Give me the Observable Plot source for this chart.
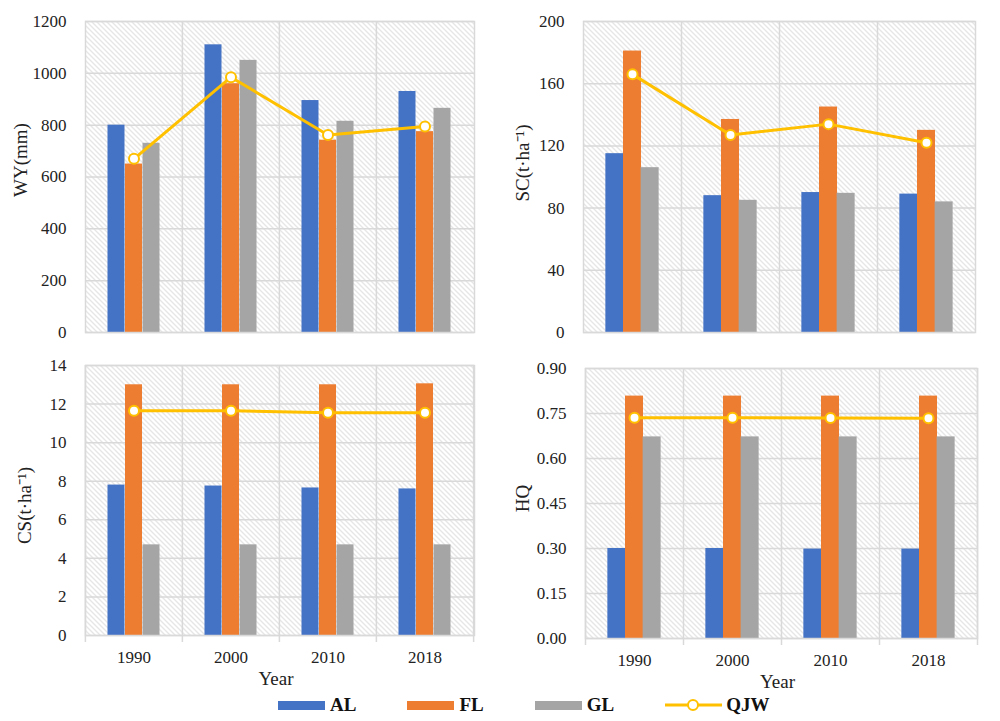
<!DOCTYPE html>
<html>
<head>
<meta charset="utf-8">
<script src="https://cdn.jsdelivr.net/npm/d3@7"></script>
<script src="https://cdn.jsdelivr.net/npm/@observablehq/plot@0.6"></script>
<style>
  html, body { margin: 0; padding: 0; background: #fff; }
  #wrap { position: relative; width: 1000px; height: 721px; font-family: "Liberation Serif", "Times New Roman", serif; }
  .panel { position: absolute; }
  #legend { position: absolute; top: 694px; left: 278px; display: flex; align-items: center; font-weight: bold; font-size: 19px; color: #111; }
  .item { display: flex; align-items: center; }
  .sw { width: 47px; height: 9px; margin-right: 5px; }
  .lbl { margin-right: 51px; }
</style>
</head>
<body>
<svg width="0" height="0" style="position:absolute">
  <defs>
    <pattern id="hatch" patternUnits="userSpaceOnUse" width="5" height="5">
      <rect width="5" height="5" fill="#ffffff"></rect>
      <path d="M-1,-1 L6,6 M-1,4 L1,6 M4,-1 L6,1" stroke="#cdcdcd" stroke-width="1"></path>
    </pattern>
  </defs>
</svg>
<div id="wrap">
  <div id="tl" class="panel" style="left:0;top:0"></div>
  <div id="tr" class="panel" style="left:500px;top:0"></div>
  <div id="bl" class="panel" style="left:0;top:345px"></div>
  <div id="br" class="panel" style="left:500px;top:345px"></div>
  <div id="legend"></div>
</div>
<script>
// ---------- data ----------
const years = ["1990", "2000", "2010", "2018"];
const series = ["AL", "FL", "GL", "QJW"];
const colors = ["#4472C4", "#ED7D31", "#A5A5A5", "#FFC000"];

const wyAL = [800, 1110, 895, 930];
const wyFL = [650, 960, 742, 775];
const wyGL = [730, 1050, 815, 865];
const wyQJW = [670, 985, 762, 795];
const wyTicks = [0, 200, 400, 600, 800, 1000, 1200];

const scAL = [115, 88, 90, 89];
const scFL = [181, 137, 145, 130];
const scGL = [106, 85, 89.5, 84];
const scQJW = [166, 127, 134, 122];
const scTicks = [0, 40, 80, 120, 160, 200];

const csAL = [7.8, 7.75, 7.65, 7.6];
const csFL = [13.0, 13.0, 13.0, 13.05];
const csGL = [4.7, 4.7, 4.7, 4.7];
const csQJW = [11.65, 11.65, 11.55, 11.55];
const csTicks = [0, 2, 4, 6, 8, 10, 12, 14];

const hqAL = [0.30, 0.30, 0.298, 0.298];
const hqFL = [0.808, 0.808, 0.808, 0.808];
const hqGL = [0.672, 0.672, 0.672, 0.672];
const hqQJW = [0.736, 0.736, 0.735, 0.734];
const hqTicks = [0, 0.15, 0.30, 0.45, 0.60, 0.75, 0.90];

function table(al, fl, gl, q) {
  return years.map((year, i) => ({year, AL: al[i], FL: fl[i], GL: gl[i], QJW: q[i]}));
}

const gridColor = "#d9d9d9";

function panel({data, ticks, fmt, label, width, height, mt, mb, ml, mr, bottom, lx, ly}) {
  const step = (width - ml - mr) / years.length;
  const bw = step * 0.18;
  const marks = [
    Plot.frame({fill: "url(#hatch)"}),
    Plot.ruleY(ticks, {stroke: gridColor, strokeWidth: 1.5}),
    Plot.ruleX(years.slice(1), {x: d => d, dx: -step / 2, stroke: gridColor, strokeWidth: 1.5,
      insetBottom: bottom ? -7 : 0}),
  ];
  if (bottom) {
    marks.push(Plot.ruleX(years.slice(0, 1), {x: d => d, dx: -step / 2, stroke: gridColor, strokeWidth: 1.5, insetBottom: -7}));
    marks.push(Plot.ruleX(years.slice(-1), {x: d => d, dx: step / 2, stroke: gridColor, strokeWidth: 1.5, insetBottom: -7}));
    marks.push(Plot.text(["Year"], {text: d => d, frameAnchor: "bottom", lineAnchor: "middle", textAnchor: "middle",
      dy: 43, dx: -4, fontSize: 19, fill: "#222"}));
  }
  marks.push(
    Plot.barY(data, {x: "year", y: "AL", fill: colors[0], dx: -bw}),
    Plot.barY(data, {x: "year", y: "FL", fill: colors[1]}),
    Plot.barY(data, {x: "year", y: "GL", fill: colors[2], dx: bw}),
    Plot.frame({stroke: gridColor, strokeWidth: 1.5}),
    Plot.line(data, {x: "year", y: "QJW", stroke: colors[3], strokeWidth: 3}),
    Plot.dot(data, {x: "year", y: "QJW", r: 5, fill: "white", stroke: colors[3], strokeWidth: 2}),
    Plot.text([label], {text: d => d, frameAnchor: "left", textAnchor: "middle", lineAnchor: "middle",
      dx: -lx, dy: ly, rotate: -90, fontSize: 19, fill: "#222"})
  );
  return Plot.plot({
    width, height,
    marginTop: mt, marginBottom: mb, marginLeft: ml, marginRight: mr,
    style: {fontFamily: "Liberation Serif", fontSize: "17px", color: "#222", background: "transparent"},
    x: {domain: years, paddingInner: 0.82, paddingOuter: 0.41, axis: bottom ? "bottom" : null,
        tickSize: 0, tickPadding: 15, label: null},
    y: {domain: [ticks[0], ticks[ticks.length - 1]], ticks, tickFormat: fmt, tickSize: 0, tickPadding: 19,
        label: null},
    marks
  });
}

document.getElementById("tl").append(panel({
  data: table(wyAL, wyFL, wyGL, wyQJW), ticks: wyTicks, fmt: d3.format("d"), label: "WY(mm)",
  width: 500, height: 345, mt: 21, mb: 13, ml: 85, mr: 26, bottom: false, lx: 65, ly: -17
}));
document.getElementById("tr").append(panel({
  data: table(scAL, scFL, scGL, scQJW), ticks: scTicks, fmt: d3.format("d"), label: "SC(t·ha⁻¹)",
  width: 500, height: 345, mt: 21, mb: 13, ml: 83, mr: 25, bottom: false, lx: 61, ly: -14
}));
document.getElementById("bl").append(panel({
  data: table(csAL, csFL, csGL, csQJW), ticks: csTicks, fmt: d3.format("d"), label: "CS(t·ha⁻¹)",
  width: 500, height: 355, mt: 20, mb: 65, ml: 85, mr: 26, bottom: true, lx: 61, ly: 5
}));
document.getElementById("br").append(panel({
  data: table(hqAL, hqFL, hqGL, hqQJW), ticks: hqTicks, fmt: d3.format(".2f"), label: "HQ",
  width: 500, height: 355, mt: 23, mb: 62, ml: 85, mr: 23, bottom: true, lx: 63, ly: -5
}));

// ---------- legend ----------
const legend = document.getElementById("legend");
series.forEach((s, i) => {
  const item = document.createElement("div");
  item.className = "item";
  if (s === "QJW") {
    item.innerHTML = `<svg width="57" height="14" style="margin-right:4px"><line x1="0" x2="57" y1="7" y2="7" stroke="${colors[i]}" stroke-width="3"/><circle cx="28" cy="7" r="5" fill="white" stroke="${colors[i]}" stroke-width="2"/></svg><span>${s}</span>`;
  } else {
    item.innerHTML = `<div class="sw" style="background:${colors[i]}"></div><span class="lbl">${s}</span>`;
  }
  legend.append(item);
});
</script>
</body>
</html>
